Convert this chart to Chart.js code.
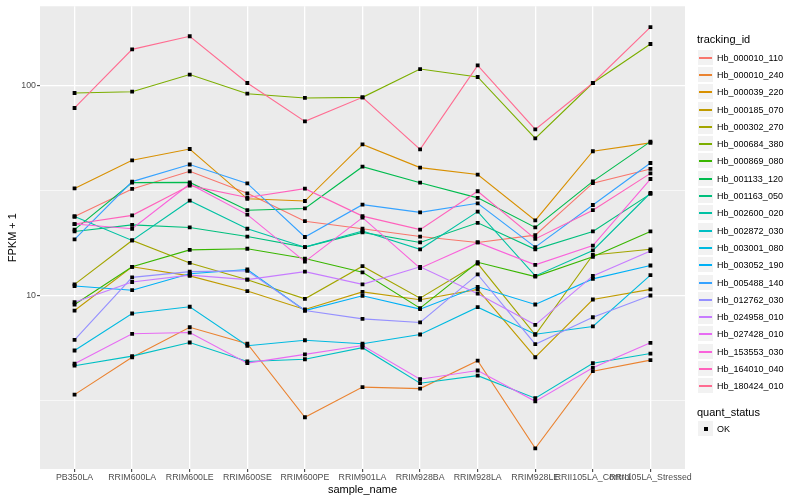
<!DOCTYPE html>
<html><head><meta charset="utf-8">
<script src="https://cdn.jsdelivr.net/npm/chart.js@4.4.1/dist/chart.umd.min.js"></script>
<style>
html,body{margin:0;padding:0;background:#fff;}
#wrap{position:relative;width:800px;height:500px;font-family:"Liberation Sans",Arial,Helvetica,sans-serif;}
#c{position:absolute;left:0;top:0;}
.lg{position:absolute;white-space:nowrap;color:#000;}
.ttl{font-size:11px;line-height:14px;}
.key{position:absolute;width:17px;height:17px;background:#F2F2F2;box-sizing:border-box;border:1px solid #fff;}
.key i{position:absolute;left:1px;right:1px;top:7px;height:2px;display:block;}
.key b{position:absolute;left:6px;top:6px;width:4px;height:4px;background:#000;display:block;}
.lab{font-size:9px;line-height:12px;}
</style>
</head><body>
<div id="wrap"><canvas id="c" width="800" height="500"></canvas><div id="legend"></div></div>
<script>
const categories = ['PB350LA','RRIM600LA','RRIM600LE','RRIM600SE','RRIM600PE','RRIM901LA','RRIM928BA','RRIM928LA','RRIM928LE','RRII105LA_Control','RRII105LA_Stressed'];
const trackingIds = ['Hb_000010_110','Hb_000010_240','Hb_000039_220','Hb_000185_070','Hb_000302_270','Hb_000684_380','Hb_000869_080','Hb_001133_120','Hb_001163_050','Hb_002600_020','Hb_002872_030','Hb_003001_080','Hb_003052_190','Hb_005488_140','Hb_012762_030','Hb_024958_010','Hb_027428_010','Hb_153553_030','Hb_164010_040','Hb_180424_010'];
const seriesColors = ['#F8766D','#EA8331','#D89000','#C09B00','#A3A500','#7CAE00','#39B600','#00BB4E','#00BF7D','#00C1A3','#00BFC4','#00BAE0','#00B0F6','#35A2FF','#9590FF','#C77CFF','#E76BF3','#FA62DB','#FF62BC','#FF6C91'];

const s000010_110 = [23.8, 32.2, 39.1, 30.7, 22.6, 20.8, 19.1, 17.9, 19.4, 34.3, 40.1];
const s000010_240 = [3.37, 5.08, 7.06, 5.89, 2.63, 3.66, 3.60, 4.89, 1.87, 4.36, 4.92];
const s000039_220 = [32.4, 44.1, 49.9, 28.9, 28.2, 52.5, 40.7, 37.7, 22.8, 48.7, 53.4];
const s000185_070 = [8.48, 13.7, 12.4, 10.5, 8.58, 10.4, 9.54, 10.7, 5.08, 9.57, 10.7];
const s000302_270 = [11.3, 18.3, 14.3, 11.9, 9.64, 13.8, 9.71, 14.2, 6.50, 15.6, 16.6];
const s000684_380 = [92.3, 93.6, 113, 91.6, 87.4, 88.0, 120, 110, 56.1, 103, 158];
const s000869_080 = [9.06, 13.7, 16.5, 16.7, 15.0, 12.9, 8.70, 14.4, 12.3, 15.3, 20.2];
const s001133_120 = [20.6, 34.5, 34.6, 25.5, 26.0, 41.1, 34.5, 29.2, 21.1, 35.0, 54.1];
const s001163_050 = [20.2, 21.7, 21.1, 19.1, 17.0, 20.0, 17.9, 22.2, 16.6, 20.2, 30.5];
const s002600_020 = [23.8, 18.3, 28.3, 20.8, 17.0, 20.3, 16.6, 25.1, 12.4, 16.4, 30.8];
const s002872_030 = [4.63, 5.14, 5.97, 4.85, 4.97, 5.64, 3.82, 4.15, 3.24, 4.76, 5.29];
const s003001_080 = [5.47, 8.21, 8.84, 5.76, 6.12, 5.89, 6.52, 8.80, 6.54, 7.12, 12.5];
const s003052_190 = [11.1, 10.6, 12.7, 13.3, 8.48, 9.97, 8.61, 11.0, 9.06, 12.0, 13.9];
const s005488_140 = [18.5, 34.9, 42.1, 34.2, 19.0, 27.1, 24.9, 27.5, 17.0, 27.0, 42.8];
const s012762_030 = [6.15, 12.2, 13.0, 13.1, 8.48, 7.74, 7.44, 12.6, 5.86, 7.88, 10.0];
const s024958_010 = [9.29, 11.6, 12.5, 11.9, 13.0, 11.3, 13.7, 10.2, 7.25, 12.4, 16.3];
const s027428_010 = [4.73, 6.57, 6.66, 4.76, 5.24, 5.78, 3.99, 4.39, 3.13, 4.53, 5.95];
const s153553_030 = [21.9, 20.8, 34.0, 24.3, 14.5, 23.5, 13.5, 17.9, 14.0, 17.3, 35.9];
const s164010_040 = [21.9, 24.1, 33.4, 29.3, 32.3, 23.9, 20.6, 31.4, 18.6, 25.5, 38.2];
const s180424_010 = [78.3, 149, 172, 103, 67.6, 88.0, 49.7, 125, 61.9, 103, 190];

const seriesValues = [s000010_110, s000010_240, s000039_220, s000185_070, s000302_270, s000684_380, s000869_080, s001133_120, s001163_050, s002600_020, s002872_030, s003001_080, s003052_190, s005488_140, s012762_030, s024958_010, s027428_010, s153553_030, s164010_040, s180424_010];

const yTickValues = [10, 100];
const yTickLabels = ['10', '100'];
const yMinorValues = [3.1623, 31.623];
const quantStatus = ['OK'];

const toPts = vals => vals.map((v, i) => ({x: i, y: v}));
const datasets = [];
seriesValues.forEach((vals, k) => {
  datasets.push({label: trackingIds[k], data: toPts(vals), borderColor: seriesColors[k], backgroundColor: seriesColors[k],
    borderWidth: 1.1, pointRadius: 0, showLine: true, tension: 0, order: 100 - k});
});
seriesValues.forEach((vals, k) => {
  datasets.push({label: trackingIds[k] + ' ' + quantStatus[0], data: toPts(vals), showLine: false,
    pointStyle: 'rect', pointRadius: 2.7, pointBackgroundColor: '#000', pointBorderWidth: 0, order: 0});
});

const panelBg = {id: 'panelBg', beforeDraw(chart) {
  const {ctx, chartArea: a} = chart; ctx.save(); ctx.fillStyle = '#EBEBEB';
  ctx.fillRect(a.left, a.top, a.right - a.left, a.bottom - a.top); ctx.restore();
}};

const isMajor = v => yTickValues.some(t => Math.abs(t - v) < 1e-6);
const FONT = '"Liberation Sans", Arial, sans-serif';

new Chart(document.getElementById('c'), {
  type: 'scatter',
  data: {datasets},
  plugins: [panelBg],
  options: {
    responsive: false, animation: false, devicePixelRatio: 1,
    layout: {padding: {left: 0, top: 5, right: 115, bottom: 0}},
    plugins: {legend: {display: false}, tooltip: {enabled: false}},
    scales: {
      x: {type: 'linear', min: -0.6, max: categories.length - 0.4,
        afterBuildTicks: s => { s.ticks = categories.map((c, i) => ({value: i})); },
        afterFit: s => { s.height = 31; },
        grid: {color: '#FFFFFF', lineWidth: 1.3, tickColor: '#333333', tickLength: 3, tickWidth: 1},
        border: {display: false},
        ticks: {autoSkip: false, maxRotation: 0, minRotation: 0, padding: 0, color: '#4D4D4D',
          font: {family: FONT, size: 8.8},
          callback: v => categories[v] !== undefined ? categories[v] : ''},
        title: {display: true, text: 'sample_name', color: '#000', padding: {top: 0, bottom: 3},
          font: {family: FONT, size: 11}}
      },
      y: {type: 'logarithmic', min: 1.49, max: 239,
        afterBuildTicks: s => { s.ticks = yMinorValues.concat(yTickValues).sort((a, b) => a - b).map(v => ({value: v})); },
        afterFit: s => { s.width = 40; },
        grid: {color: '#FFFFFF', lineWidth: c => isMajor(c.tick.value) ? 1.3 : 0.6,
          tickColor: c => isMajor(c.tick.value) ? '#333333' : 'rgba(0,0,0,0)', tickLength: 3, tickWidth: 1},
        border: {display: false},
        ticks: {autoSkip: false, padding: 1, color: '#4D4D4D',
          font: {family: FONT, size: 8.8},
          callback: v => { const i = yTickValues.findIndex(t => Math.abs(t - v) < 1e-6); return i >= 0 ? yTickLabels[i] : ''; }},
        title: {display: true, text: 'FPKM + 1', color: '#000', padding: {top: 6, bottom: 0},
          font: {family: FONT, size: 11}}
      }
    }
  }
});

// legend (HTML)
const lg = document.getElementById('legend');
function add(txt, cls, left, top) { const d = document.createElement('div'); d.className = 'lg ' + cls; d.style.left = left + 'px'; d.style.top = top + 'px'; d.textContent = txt; lg.appendChild(d); return d; }
add('tracking_id', 'ttl', 697, 32);
trackingIds.forEach((id, k) => {
  const top = Math.round(48.6 + k * 17.3);
  const key = document.createElement('div'); key.className = 'key'; key.style.left = '697px'; key.style.top = top + 'px';
  const ln = document.createElement('i'); ln.style.background = seriesColors[k]; key.appendChild(ln); lg.appendChild(key);
  add(id, 'lab', 717, top + 3);
});
add('quant_status', 'ttl', 697, 405);
quantStatus.forEach((q, k) => {
  const top = Math.round(420.4 + k * 17.3);
  const key = document.createElement('div'); key.className = 'key'; key.style.left = '697px'; key.style.top = top + 'px';
  key.appendChild(document.createElement('b')); lg.appendChild(key);
  add(q, 'lab', 717, top + 3);
});
</script>
</body></html>
